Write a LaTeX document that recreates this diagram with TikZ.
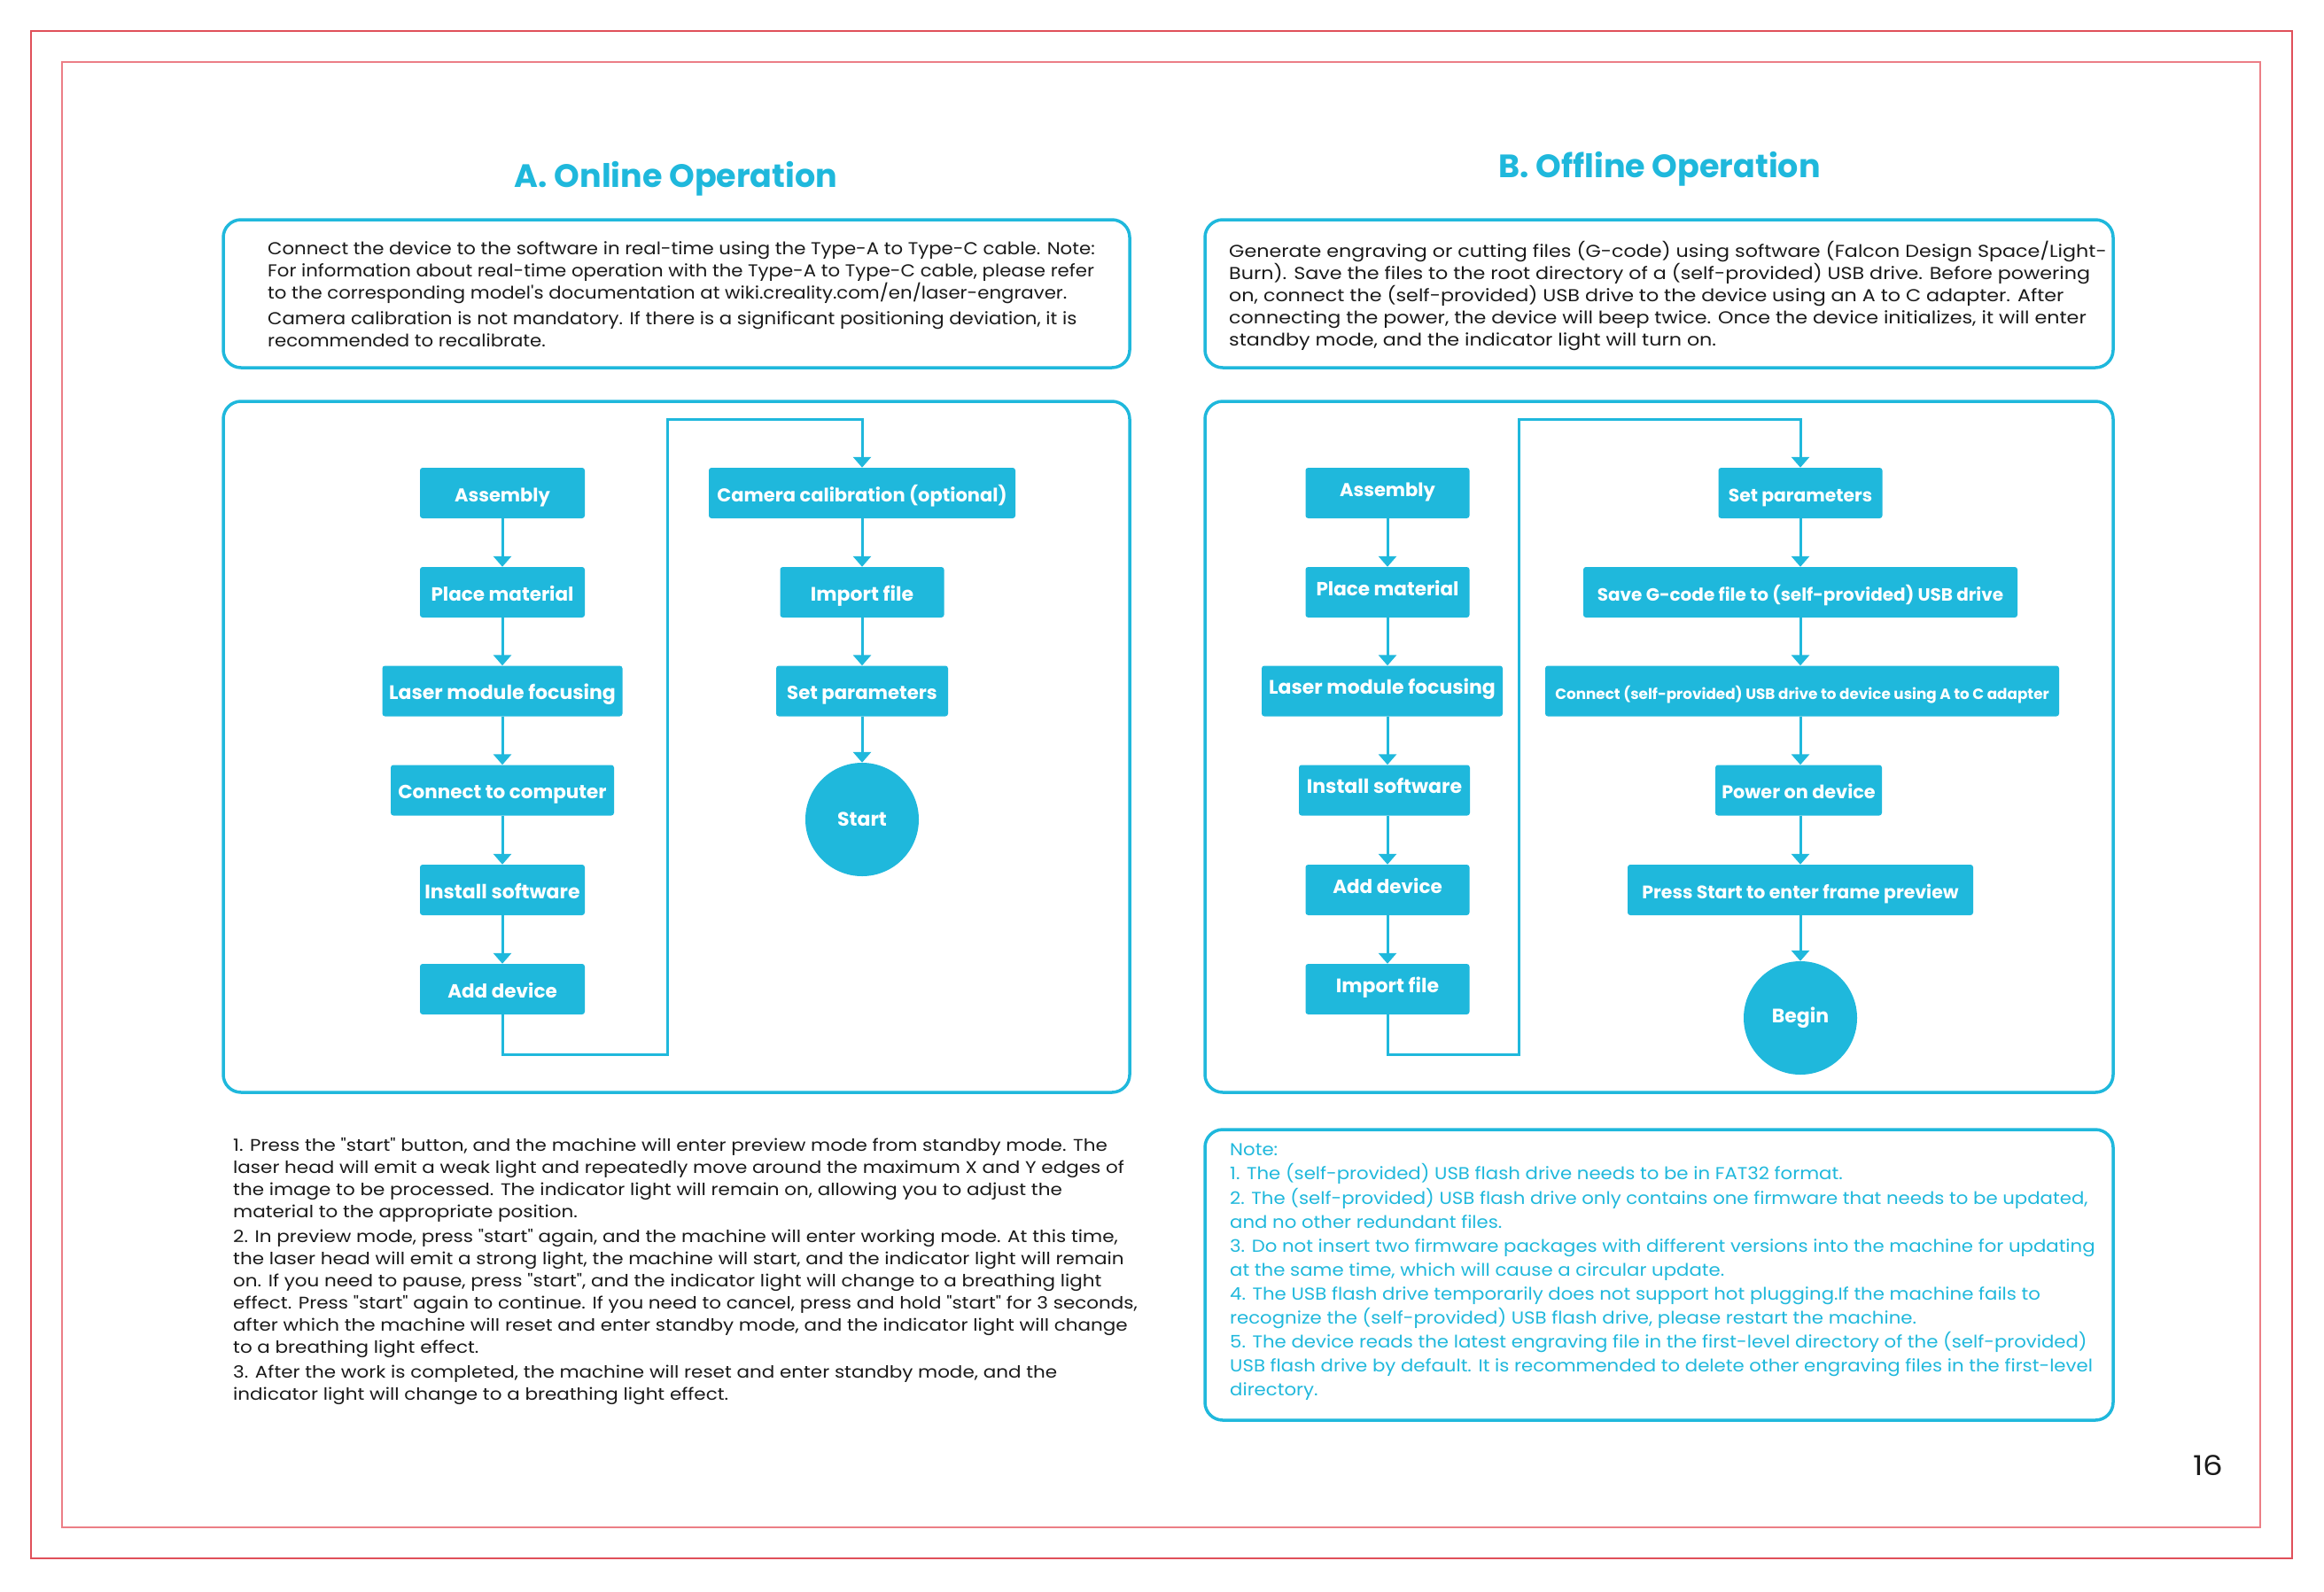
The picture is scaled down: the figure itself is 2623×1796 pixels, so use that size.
\documentclass[tikz,border=0pt]{standalone}
\usepackage{fontspec}
\setmainfont{Poppins}
\newfontfamily\bodyA{Poppins}[FakeStretch=1.09]
\newfontfamily\bodyB{Poppins}[FakeStretch=1.14]
\newfontfamily\bodyC{Poppins}[FakeStretch=1.13]
\newfontfamily\bodyN{Poppins}[FakeStretch=1.09]
\newfontfamily\pagenumfont{Poppins}[FakeStretch=1.15]
\usetikzlibrary{arrows.meta}
\definecolor{cy}{HTML}{1FB8DC}
\definecolor{frameout}{HTML}{E0505A}
\definecolor{framein}{HTML}{EC7E86}
\definecolor{ink}{HTML}{1A1A1A}
\tikzset{
  panel/.style={draw=cy, line width=3.5pt, rounded corners=20pt},
  stepbox/.style={rectangle, fill=cy, rounded corners=3pt, minimum height=57pt, inner sep=0pt,
    text=white, font=\bfseries\fontsize{21.5}{26}\selectfont, text height=22pt, text depth=3pt},
  stepboxb/.style={stepbox, text height=16pt, text depth=9pt},
  endcircle/.style={circle, fill=cy, minimum size=128pt, inner sep=0pt, text=white,
    font=\bfseries\fontsize{22}{26}\selectfont},
  conn/.style={draw=cy, line width=3pt, line join=miter, -{Triangle[width=20pt,length=12pt]}},
  txt/.style={inner sep=0pt, align=left, text=ink, anchor=north west},
  title/.style={text=cy, font=\bfseries\fontsize{36.5}{42}\selectfont, anchor=base, inner sep=0pt},
}
\begin{document}
\begin{tikzpicture}[x=1pt,y=-1pt]
\useasboundingbox (0,0) rectangle (2623,1796);
\fill[white] (0,0) rectangle (2623,1796);
% page frames
\draw[frameout, line width=2.5pt] (35,35) rectangle (2587,1759);
\draw[framein, line width=2.5pt] (70,70) rectangle (2551,1724);

% titles
\node[title] (tA) at (763,211) {A. Online Operation};
\node[title] (tB) at (1873,200) {B. Offline Operation};

% panels
\draw[panel] (252,248) rectangle (1275,415);
\draw[panel] (1360,248) rectangle (2385,415);
\draw[panel] (252,453) rectangle (1275,1233);
\draw[panel] (1360,453) rectangle (2385,1233);
\draw[panel] (1360,1275) rectangle (2385,1603);

% top texts
\node[txt, font=\bodyA\fontsize{19.5}{25}\selectfont] (txA) at (302,272) {Connect the device to the software in real-time using the Type-A to Type-C cable. Note:\\
For information about real-time operation with the Type-A to Type-C cable, please refer\\
to the corresponding model's documentation at wiki.creality.com/en/laser-engraver.\\[4pt]
Camera calibration is not mandatory. If there is a significant positioning deviation, it is\\
recommended to recalibrate.};

\node[txt, font=\bodyB\fontsize{19.5}{25}\selectfont] (txB) at (1387,272) {Generate engraving or cutting files (G-code) using software (Falcon Design Space/Light-\\
Burn). Save the files to the root directory of a (self-provided) USB drive. Before powering\\
on, connect the (self-provided) USB drive to the device using an A to C adapter. After\\
connecting the power, the device will beep twice. Once the device initializes, it will enter\\
standby mode, and the indicator light will turn on.};

% flow A
\node[stepbox, minimum width=186pt, font=\bfseries\fontsize{21}{26}\selectfont] (a1) at (567,556.5) {Assembly};
\node[stepbox, minimum width=186pt] (a2) at (567,668.5) {Place material};
\node[stepbox, minimum width=271pt, font=\bfseries\fontsize{22}{26}\selectfont] (a3) at (567,780) {Laser module focusing};
\node[stepbox, minimum width=252pt] (a4) at (567,892) {Connect to computer};
\node[stepbox, minimum width=186pt, font=\bfseries\fontsize{22}{26}\selectfont] (a5) at (567,1004.5) {Install software};
\node[stepbox, minimum width=186pt] (a6) at (567,1116.5) {Add device};
\node[stepbox, minimum width=346pt, font=\bfseries\fontsize{21}{26}\selectfont] (a7) at (973,556.5) {Camera calibration (optional)};
\node[stepbox, minimum width=185pt, font=\bfseries\fontsize{22}{26}\selectfont] (a8) at (973,668.5) {Import file};
\node[stepbox, minimum width=194pt, font=\bfseries\fontsize{21.2}{26}\selectfont] (a9) at (973,780) {Set parameters};
\node[endcircle] (a10) at (973,925) {Start};
\coordinate (ca1) at (753,1190);
\coordinate (ca2) at (753,473);
\draw[conn] (a1) -- (a2);
\draw[conn] (a2) -- (a3);
\draw[conn] (a3) -- (a4);
\draw[conn] (a4) -- (a5);
\draw[conn] (a5) -- (a6);
\draw[conn] (a6.south) |- (ca1) -- (ca2) -| (a7.north);
\draw[conn] (a7) -- (a8);
\draw[conn] (a8) -- (a9);
\draw[conn] (a9) -- (a10);

% flow B
\node[stepboxb, minimum width=185pt, font=\bfseries\fontsize{21}{26}\selectfont] (b1) at (1566,556.5) {Assembly};
\node[stepboxb, minimum width=185pt] (b2) at (1566,668.5) {Place material};
\node[stepboxb, minimum width=272pt, font=\bfseries\fontsize{22}{26}\selectfont] (b3) at (1560,780) {Laser module focusing};
\node[stepboxb, minimum width=193pt, font=\bfseries\fontsize{22}{26}\selectfont] (b4) at (1562.5,892) {Install software};
\node[stepboxb, minimum width=185pt] (b5) at (1566,1004.5) {Add device};
\node[stepboxb, minimum width=185pt, font=\bfseries\fontsize{22}{26}\selectfont] (b6) at (1566,1116.5) {Import file};
\node[stepbox, minimum width=185pt, font=\bfseries\fontsize{20.3}{26}\selectfont] (b7) at (2032,556.5) {Set parameters};
\node[stepbox, minimum width=490pt, font=\bfseries\fontsize{20}{26}\selectfont] (b8) at (2032,668.5) {Save G-code file to (self-provided) USB drive};
\node[stepbox, minimum width=580pt, font=\bfseries\fontsize{16.8}{22}\selectfont] (b9) at (2034,780) {Connect (self-provided) USB drive to device using A to C adapter};
\node[stepbox, minimum width=188pt, font=\bfseries\fontsize{20.8}{26}\selectfont] (b10) at (2030,892) {Power on device};
\node[stepbox, minimum width=390pt, font=\bfseries\fontsize{20.5}{26}\selectfont] (b11) at (2032,1004.5) {Press Start to enter frame preview};
\node[endcircle] (b12) at (2032,1149) {Begin};
\coordinate (cb1) at (1714,1190);
\coordinate (cb2) at (1714,473);
\draw[conn] (b1) -- (b2);
\draw[conn] (b2.south) -- (b2.south |- b3.north);
\draw[conn] (b3.south -| b2.south) -- (b4.north -| b2.south);
\draw[conn] (b4.south -| b2.south) -- (b5.north);
\draw[conn] (b5) -- (b6);
\draw[conn] (b6.south) |- (cb1) -- (cb2) -| (b7.north);
\draw[conn] (b7) -- (b8);
\draw[conn] (b8.south) -- (b8.south |- b9.north);
\draw[conn] (b9.south -| b8.south) -- (b8.south |- b10.north);
\draw[conn] (b10.south -| b8.south) -- (b11.north);
\draw[conn] (b11) -- (b12);

% bottom-left text
\node[txt, font=\bodyC\fontsize{19}{25}\selectfont] (txC) at (263,1284) {1. Press the "start" button, and the machine will enter preview mode from standby mode. The\\
laser head will emit a weak light and repeatedly move around the maximum X and Y edges of\\
the image to be processed. The indicator light will remain on, allowing you to adjust the\\
material to the appropriate position.\\[3pt]
2. In preview mode, press "start" again, and the machine will enter working mode. At this time,\\
the laser head will emit a strong light, the machine will start, and the indicator light will remain\\
on. If you need to pause, press "start", and the indicator light will change to a breathing light\\
effect. Press "start" again to continue. If you need to cancel, press and hold "start" for 3 seconds,\\
after which the machine will reset and enter standby mode, and the indicator light will change\\
to a breathing light effect.\\[3pt]
3. After the work is completed, the machine will reset and enter standby mode, and the\\
indicator light will change to a breathing light effect.};

% note text
\node[txt, text=cy, font=\bodyN\fontsize{19.5}{27.1}\selectfont] (txN) at (1388,1291) {Note:\\
1. The (self-provided) USB flash drive needs to be in FAT32 format.\\
2. The (self-provided) USB flash drive only contains one firmware that needs to be updated,\\
and no other redundant files.\\
3. Do not insert two firmware packages with different versions into the machine for updating\\
at the same time, which will cause a circular update.\\
4. The USB flash drive temporarily does not support hot plugging.If the machine fails to\\
recognize the (self-provided) USB flash drive, please restart the machine.\\
5. The device reads the latest engraving file in the first-level directory of the (self-provided)\\
USB flash drive by default. It is recommended to delete other engraving files in the first-level\\
directory.};

% page number
\node[anchor=base, inner sep=0pt, text=ink, font=\pagenumfont\fontsize{31}{36}\selectfont] (pg) at (2492,1665) {16};
\end{tikzpicture}
\end{document}
